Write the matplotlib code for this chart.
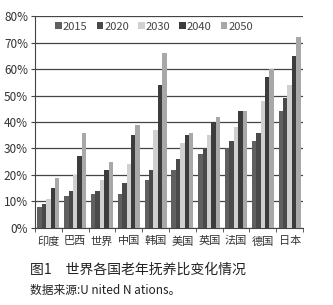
import matplotlib.pyplot as plt
import numpy as np

plt.rcParams['font.family'] = ['Noto Sans CJK SC', 'DejaVu Sans']

countries = ['印度', '巴西', '世界', '中国', '韩国', '美国', '英国', '法国', '德国', '日本']
years = ['2015', '2020', '2030', '2040', '2050']
v2015 = [8, 12, 13, 13, 18, 22, 28, 30, 33, 44]
v2020 = [9, 14, 14, 17, 22, 26, 30, 33, 36, 49]
v2030 = [11, 20, 18, 24, 37, 32, 35, 38, 48, 54]
v2040 = [15, 27, 22, 35, 54, 35, 40, 44, 57, 65]
v2050 = [19, 36, 25, 39, 66, 36, 42, 44, 60, 72]
series = [v2015, v2020, v2030, v2040, v2050]
colors = ['#606060', '#4a4a4a', '#d0d0d0', '#3c3c3c', '#a8a8a8']

fig = plt.figure(figsize=(3.33, 3.05), dpi=100)
ax = fig.add_axes([0.105, 0.2525, 0.805, 0.695])

x = np.arange(len(countries))
w = 0.165
for i, (vals, c) in enumerate(zip(series, colors)):
    ax.bar(x + (i - 2) * w, vals, width=w, color=c, label=years[i], zorder=3)

ax.set_ylim(0, 80)
ax.set_xlim(-0.5, len(countries) - 0.5)
ax.set_yticks(range(0, 81, 10))
ax.set_yticklabels([f'{t}%' for t in range(0, 81, 10)], fontsize=8.5, color='#333333')
ax.yaxis.grid(True, color='#444444', linewidth=0.9, zorder=0)
ax.set_xticks(x)
ax.set_xticklabels(countries, fontsize=8, color='#333333')
ax.set_xticks(np.arange(-0.5, len(countries)), minor=True)
ax.tick_params(axis='x', which='major', length=0, pad=6)
ax.tick_params(axis='x', which='minor', length=3, color='#444444')
ax.tick_params(axis='y', length=3, color='#444444', pad=2)
for s in ['top', 'right']:
    ax.spines[s].set_visible(False)
ax.spines['left'].set_color('#444444')
ax.spines['bottom'].set_color('#444444')

leg = ax.legend(loc='upper left', bbox_to_anchor=(0.055, 1.0), ncol=5, frameon=False,
                fontsize=8, handlelength=0.6, handleheight=0.6, handletextpad=0.1,
                columnspacing=0.8, borderaxespad=0.1)
for t in leg.get_texts():
    t.set_color('#444444')

fig.text(0.09, 0.115, '图1　世界各国老年抚养比变化情况', fontsize=10, color='#222222', va='center')
fig.text(0.09, 0.049, '数据来源:U nited N ations。', fontsize=8.5, color='#222222', va='center')

fig.savefig('out.png', dpi=100)
